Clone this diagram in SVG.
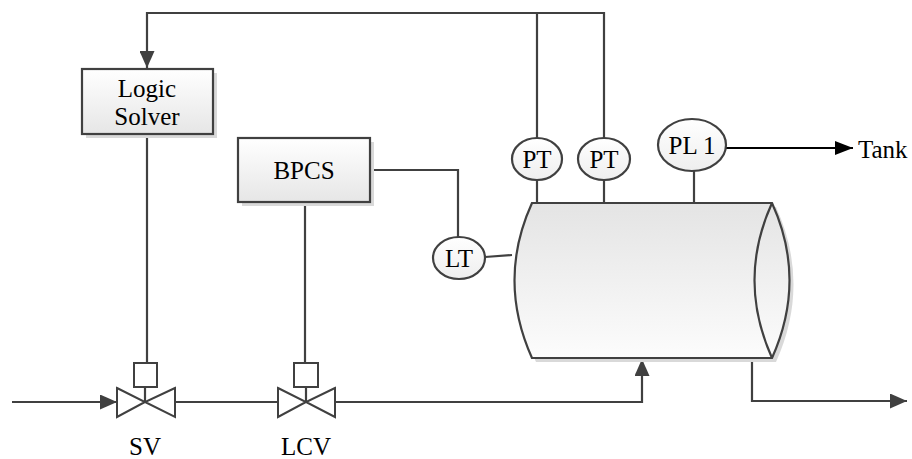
<svg xmlns="http://www.w3.org/2000/svg" width="912" height="459" viewBox="0 0 912 459">
<defs>
<linearGradient id="gBox" x1="0" y1="0" x2="0" y2="1"><stop offset="0" stop-color="#ffffff"/><stop offset="1" stop-color="#e6e6e6"/></linearGradient>
<linearGradient id="gTank" x1="0" y1="0" x2="0" y2="1"><stop offset="0" stop-color="#e4e4e4"/><stop offset="1" stop-color="#fcfcfc"/></linearGradient>
<linearGradient id="gCirc" x1="0" y1="0" x2="0" y2="1"><stop offset="0" stop-color="#ffffff"/><stop offset="1" stop-color="#eeeeee"/></linearGradient>
<marker id="arrL" viewBox="0 0 10 10" refX="10" refY="5" markerWidth="17" markerHeight="15" markerUnits="userSpaceOnUse" orient="auto" preserveAspectRatio="none"><path d="M0,0 L10,5 L0,10 Z" fill="#404040"/></marker>
<marker id="arrB" viewBox="0 0 10 10" refX="10" refY="5" markerWidth="18" markerHeight="14" markerUnits="userSpaceOnUse" orient="auto" preserveAspectRatio="none"><path d="M0,0 L10,5 L0,10 Z" fill="#000"/></marker>
</defs>
<style>
.ln{fill:none;stroke:#404040;stroke-width:2.2}
.bx{fill:url(#gBox);stroke:#404040;stroke-width:2.2}
.sh{fill:#d9d9d9}
.ci{fill:url(#gCirc);stroke:#404040;stroke-width:2.2}
.vl{fill:#fff;stroke:#404040;stroke-width:2}
.t{font-family:"Liberation Serif","Times New Roman",serif;font-size:25px;fill:#000;text-anchor:middle}
</style>
<g id="connectors">
<path class="ln" d="M537,138 V13 H147 V68" marker-end="url(#arrL)"/>
<path class="ln" d="M604,138 V13 H537"/>
<path class="ln" d="M147,134 V363"/>
<path class="ln" d="M370,170 H458 V237"/>
<path class="ln" d="M305,202 V363"/>
<path class="ln" d="M485,257 L512,255"/>
<path class="ln" d="M537,180 V203"/>
<path class="ln" d="M604,180 V203"/>
<path class="ln" d="M694,171 V203"/>
<path d="M726,148 H853" fill="none" stroke="#000" stroke-width="2.2" marker-end="url(#arrB)"/>
<path class="ln" d="M12,402 H117" marker-end="url(#arrL)"/>
<path class="ln" d="M175,402 H278"/>
<path class="ln" d="M335,402 H642 V359" marker-end="url(#arrL)"/>
<path class="ln" d="M752,358 V401 H907" marker-end="url(#arrL)"/>
</g>
<g id="logic-solver">
<rect class="sh" x="86" y="73" width="131" height="65"/>
<rect class="bx" x="82" y="69" width="131" height="65"/>
<text class="t" x="147" y="97">Logic</text>
<text class="t" x="147" y="125">Solver</text>
</g>
<g id="bpcs">
<rect class="sh" x="242" y="142" width="132" height="64"/>
<rect class="bx" x="238" y="138" width="132" height="64"/>
<text class="t" x="304" y="179">BPCS</text>
</g>
<g id="tank">
<path class="sh" d="M536,207 H776 Q811,284 776,362 H536 Q501,284 536,207 Z"/>
<path d="M532,203 H772 Q807,280 772,358 H532 Q497,280 532,203 Z" fill="url(#gTank)" stroke="#404040" stroke-width="2.2"/>
<path class="ln" d="M772,203 Q737,280 772,358"/>
</g>
<g id="lt">
<ellipse class="ci" cx="459" cy="258" rx="26" ry="21"/>
<text class="t" x="459" y="267">LT</text>
</g>
<g id="pt1">
<ellipse class="ci" cx="537" cy="159" rx="25" ry="21"/>
<text class="t" x="537" y="168">PT</text>
</g>
<g id="pt2">
<ellipse class="ci" cx="604" cy="159" rx="26" ry="21"/>
<text class="t" x="604" y="168">PT</text>
</g>
<g id="pl1">
<ellipse class="ci" cx="692" cy="145" rx="34" ry="26"/>
<text class="t" x="692" y="154">PL 1</text>
</g>
<text class="t" x="858" y="158" style="text-anchor:start">Tank</text>
<g id="sv">
<rect class="vl" x="134" y="363" width="23" height="24"/>
<path class="ln" d="M145,387 V402"/>
<path class="vl" d="M117,388 L145,402 L117,417 Z M175,388 L145,402 L175,417 Z"/>
<text class="t" x="145" y="455">SV</text>
</g>
<g id="lcv">
<rect class="vl" x="294" y="363" width="24" height="24"/>
<path class="ln" d="M306,387 V402"/>
<path class="vl" d="M278,388 L306,402 L278,417 Z M335,388 L306,402 L335,417 Z"/>
<text class="t" x="306" y="455">LCV</text>
</g>
</svg>
